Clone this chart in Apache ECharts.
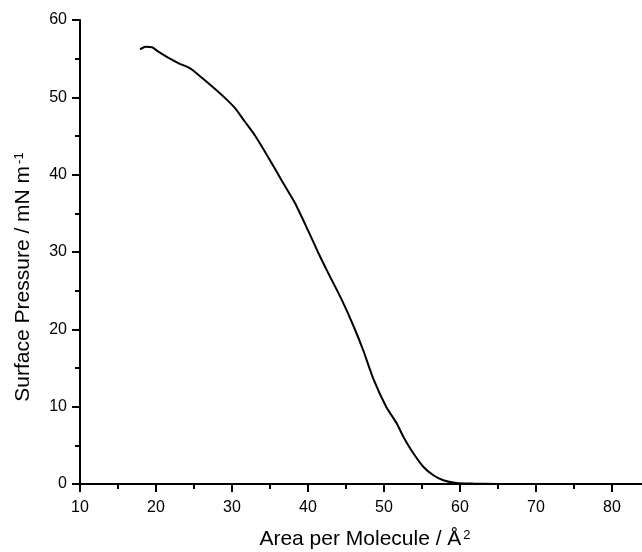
<!DOCTYPE html>
<html>
<head>
<meta charset="utf-8">
<script src="https://cdn.jsdelivr.net/npm/echarts@6/dist/echarts.min.js"></script>
<style>
  html, body { margin: 0; padding: 0; background: #fff; }
  #chart { width: 642px; height: 552px; }
</style>
</head>
<body>
<div id="chart"></div>
<script>
// isotherm: area per molecule (Å²) and surface pressure (mN/m)
const area = [17.9, 18.6, 19.5, 20.3, 21.6, 23.0, 24.5, 25.6, 27.4, 29.1, 30.4, 31.7, 33.0,
  34.8, 36.5, 38.3, 40.0, 41.4, 42.7, 44.4, 46.0, 47.3, 48.6, 50.3, 51.7, 52.6, 53.7,
  55.2, 56.5, 57.8, 59.5, 61.7, 64.8]
const pressure = [56.2, 56.55, 56.47, 55.9, 55.13, 54.4, 53.75, 52.9, 51.4, 49.9, 48.6, 46.84, 45.1,
  42.2, 39.3, 36.3, 32.8, 29.8, 27.2, 23.9, 20.4, 17.2, 13.6, 9.96, 7.8, 6.0, 4.2,
  2.2, 1.13, 0.48, 0.13, 0.05, 0.0]

const xMin = 10
const xMax = 85
const yMin = 0
const yMax = 60

const chart = echarts.init(document.getElementById('chart'))
const font = 'Liberation Sans, Arial, sans-serif'

const nameRich = {
  t: { fontFamily: font, fontSize: 21, color: '#000' },
  s: { fontFamily: font, fontSize: 13, color: '#000', verticalAlign: 'top', padding: [0, 0, 8, 2] }
}

chart.setOption({
  animation: false,
  grid: {
    left: 80,
    right: -8,
    top: 20,
    bottom: 68,
    outerBoundsMode: 'none'
  },
  xAxis: [{
    type: 'value',
    min: xMin,
    max: xMax,
    interval: 10,
    name: '{t|Area per Molecule / Å}{s|2}',
    nameLocation: 'middle',
    nameGap: 45,
    nameTextStyle: { rich: nameRich },
    axisLine: { show: true, onZero: false, lineStyle: { color: '#000', width: 2 } },
    axisTick: { show: true, inside: false, length: 8, lineStyle: { color: '#000', width: 2 } },
    minorTick: { show: true, splitNumber: 2, length: 5, lineStyle: { color: '#000', width: 2 } },
    axisLabel: { showMaxLabel: false, margin: 16, color: '#000', fontFamily: font, fontSize: 16 },
    splitLine: { show: false }
  }, {
    type: 'value',
    position: 'top',
    min: xMin,
    max: xMax,
    axisLine: { show: true, lineStyle: { color: '#000', width: 2 } },
    axisTick: { show: false },
    axisLabel: { show: false },
    splitLine: { show: false }
  }],
  yAxis: {
    type: 'value',
    min: yMin,
    max: yMax,
    interval: 10,
    name: '{t|Surface Pressure / mN m}{s|-1}',
    nameLocation: 'middle',
    nameGap: 46,
    nameTextStyle: { rich: nameRich, padding: [0, 50, 0, 0] },
    axisLine: { show: true, lineStyle: { color: '#000', width: 2 } },
    axisTick: { show: true, inside: false, length: 8, lineStyle: { color: '#000', width: 2 } },
    minorTick: { show: true, splitNumber: 2, length: 5, lineStyle: { color: '#000', width: 2 } },
    axisLabel: { margin: 13, color: '#000', fontFamily: font, fontSize: 16 },
    splitLine: { show: false }
  },
  series: [{
    type: 'line',
    data: area.map((a, i) => [a, pressure[i]]),
    smooth: 0.2,
    showSymbol: false,
    lineStyle: { color: '#000', width: 2 }
  }]
})
</script>
</body>
</html>
